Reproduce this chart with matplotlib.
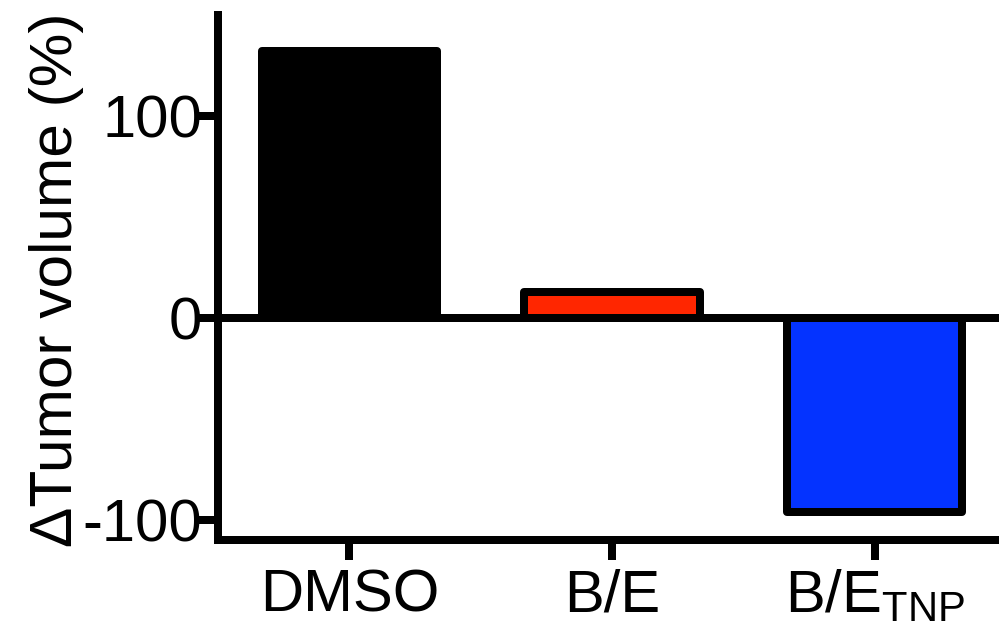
import matplotlib
matplotlib.use("Agg")
import matplotlib.pyplot as plt

categories = ["DMSO", "B/E", r"B/E$_{\mathrm{TNP}}$"]
values = [132, 13, -96]
colors = ["#000000", "#FF2600", "#0433FF"]
yticks = [-100, 0, 100]

plt.rcParams['font.family'] = ['Liberation Sans', 'DejaVu Sans']
plt.rcParams['mathtext.fontset'] = 'custom'
plt.rcParams['mathtext.rm'] = 'Liberation Sans'
plt.rcParams['mathtext.it'] = 'Liberation Sans:italic'
plt.rcParams['mathtext.bf'] = 'Liberation Sans:bold'
plt.rcParams['axes.unicode_minus'] = False

W, H = 999, 630
fig = plt.figure(figsize=(W / 100, H / 100), dpi=100)
left, right, top, bottom = 218, 1006, 15, 540
ax = fig.add_axes([left / W, 1 - bottom / H, (right - left) / W, (bottom - top) / H])

lw = 5.76
x = list(range(len(categories)))
ax.bar(x, values, width=0.667, color=colors, edgecolor="black", linewidth=lw,
       joinstyle="round", zorder=2)
ax.axhline(0, color="black", linewidth=lw, zorder=3, clip_on=False)

ax.set_xlim(-0.5, 2.5)
ax.set_ylim(-110, 150)
ax.set_yticks(yticks)
ax.set_xticks(x)
ax.set_xticklabels(categories)

for s in ["top", "right"]:
    ax.spines[s].set_visible(False)
for s in ["left", "bottom"]:
    ax.spines[s].set_linewidth(lw)
    ax.spines[s].set_capstyle("projecting")

ax.tick_params(axis="y", length=14.5, width=lw, pad=-3, labelsize=43)
ax.tick_params(axis="x", length=14.5, width=lw, pad=6, labelsize=43)

ax.set_ylabel("\u0394Tumor volume (%)", fontsize=43.5)
ax.yaxis.set_label_coords((84 - left) / (right - left), (bottom - 280) / (bottom - top))

fig.savefig("out.png", dpi=100)
